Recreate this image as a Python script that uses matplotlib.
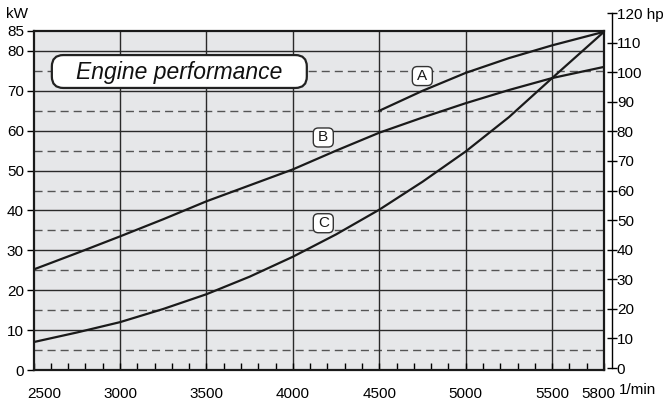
import numpy as np
import matplotlib.pyplot as plt
import matplotlib.transforms as mtransforms
from matplotlib.patches import FancyBboxPatch

# engine speed (1/min) and power (kW)
rpm = [2500, 2750, 3000, 3250, 3500, 3750, 4000, 4250, 4500, 4750, 5000, 5250, 5500, 5800]
power_b = [25.2, 29.3, 33.5, 37.8, 42.3, 46.3, 50.3, 55.0, 59.5, 63.3, 66.9, 70.2, 73.2, 76.0]
power_c = [7.0, 9.4, 12.0, 15.3, 19.0, 23.4, 28.4, 34.0, 40.2, 47.2, 54.8, 63.4, 73.2, 84.8]
rpm_a = [4500, 4750, 5000, 5250, 5500, 5800]
power_a = [65.0, 70.0, 74.5, 78.2, 81.4, 84.8]

curve_labels = ["A", "B", "C"]
label_pos = [(4749, 73.7), (4176, 58.3), (4176, 36.8)]

kw_ticks = [0, 10, 20, 30, 40, 50, 60, 70, 80, 85]
hp_ticks = [0, 10, 20, 30, 40, 50, 60, 70, 80, 90, 100, 110, 120]
rpm_ticks = [2500, 3000, 3500, 4000, 4500, 5000, 5500, 5800]

plt.rcParams['font.family'] = ['Liberation Sans', 'DejaVu Sans']

fig = plt.figure(figsize=(6.69, 4.01), dpi=100)
W, H = 669, 401
L, R, T, B = 33.6, 604, 31, 370
ax = fig.add_axes([L / W, 1 - B / H, (R - L) / W, (B - T) / H])
ax.set_facecolor('#e6e7e9')
ax.set_xlim(2500, 5800)
ax.set_ylim(0, 85)

# grid
for y in range(10, 81, 10):
    ax.axhline(y, color='#2a2a2a', lw=1.0, zorder=1)
for y in range(5, 80, 10):
    ax.axhline(y, color='#555555', lw=1.0, ls=(0, (5.8, 3.6)), zorder=1)
for x in range(3000, 5501, 500):
    ax.axvline(x, color='#2a2a2a', lw=1.0, zorder=1)

# curves
for xs, ys in [(rpm, power_b), (rpm, power_c), (rpm_a, power_a)]:
    ax.plot(xs, ys, color='#1a1a1a', lw=1.6, zorder=3, solid_joinstyle='round')

# curve letter boxes, fixed size in inches around the data point
for lab, (x, y) in zip(curve_labels, label_pos):
    tr = fig.dpi_scale_trans + mtransforms.ScaledTranslation(x, y, ax.transData)
    ax.add_patch(FancyBboxPatch((-0.1, -0.095), 0.2, 0.19,
                                boxstyle='round,pad=0,rounding_size=0.05',
                                transform=tr, fc='white', ec='#333333', lw=1.0, zorder=5))
    ax.text(x, y, lab, ha='center', va='center', fontsize=11, zorder=6, color='#1a1a1a')

# title box
box = FancyBboxPatch((0.032, 0.832), 0.447, 0.097,
                     boxstyle='round,pad=0,rounding_size=0.02',
                     mutation_aspect=(R - L) / (B - T),
                     transform=ax.transAxes, fc='white', ec='#222222', lw=1.6, zorder=5)
ax.add_patch(box)
ax.text(0.2555, 0.879, 'Engine performance', transform=ax.transAxes, ha='center', va='center',
        fontsize=16.5, style='italic', color='#111111', zorder=6)

for s in ax.spines.values():
    s.set_linewidth(1.6)
    s.set_color('#1a1a1a')

ax.set_yticks(kw_ticks)
ax.set_yticklabels([str(t) for t in kw_ticks])
ax.tick_params(axis='y', direction='out', length=5, width=1.0, labelsize=11, pad=2)

ax.set_xticks(rpm_ticks)
ax.set_xticklabels([str(t) for t in rpm_ticks])
ax.set_xticks(np.arange(2600, 5800, 100), minor=True)
ax.tick_params(axis='x', which='both', direction='in', length=5, width=1.0, labelsize=11, pad=12)
xl = ax.get_xticklabels()
xl[0].set_horizontalalignment('left')
xl[0].set_transform(xl[0].get_transform() + mtransforms.ScaledTranslation(-6 / 100, 0, fig.dpi_scale_trans))
xl[-1].set_transform(xl[-1].get_transform() + mtransforms.ScaledTranslation(-6 / 100, 0, fig.dpi_scale_trans))
fig.text(619 / W, 1 - 390 / H, '1/min', ha='left', va='center', fontsize=11)

fig.text(17 / W, 1 - 14 / H, 'kW', ha='center', va='center', fontsize=11)

# hp axis
hp_x, hp_bot, hp_top = 612, 368, 13
ax2 = fig.add_axes([hp_x / W - 0.001, 1 - hp_bot / H, 0.001, (hp_bot - hp_top) / H])
ax2.set_ylim(0, 120)
ax2.patch.set_visible(False)
for k in ['left', 'top', 'bottom']:
    ax2.spines[k].set_visible(False)
ax2.spines['right'].set_linewidth(1.0)
ax2.set_xticks([])
ax2.yaxis.tick_right()
ax2.set_yticks(hp_ticks)
ax2.set_yticklabels([str(t) + (' hp' if t == 120 else '') for t in hp_ticks])
ax2.tick_params(axis='y', direction='inout', length=7, width=1.0, labelsize=11, pad=0)

fig.savefig('out.png', dpi=100)
